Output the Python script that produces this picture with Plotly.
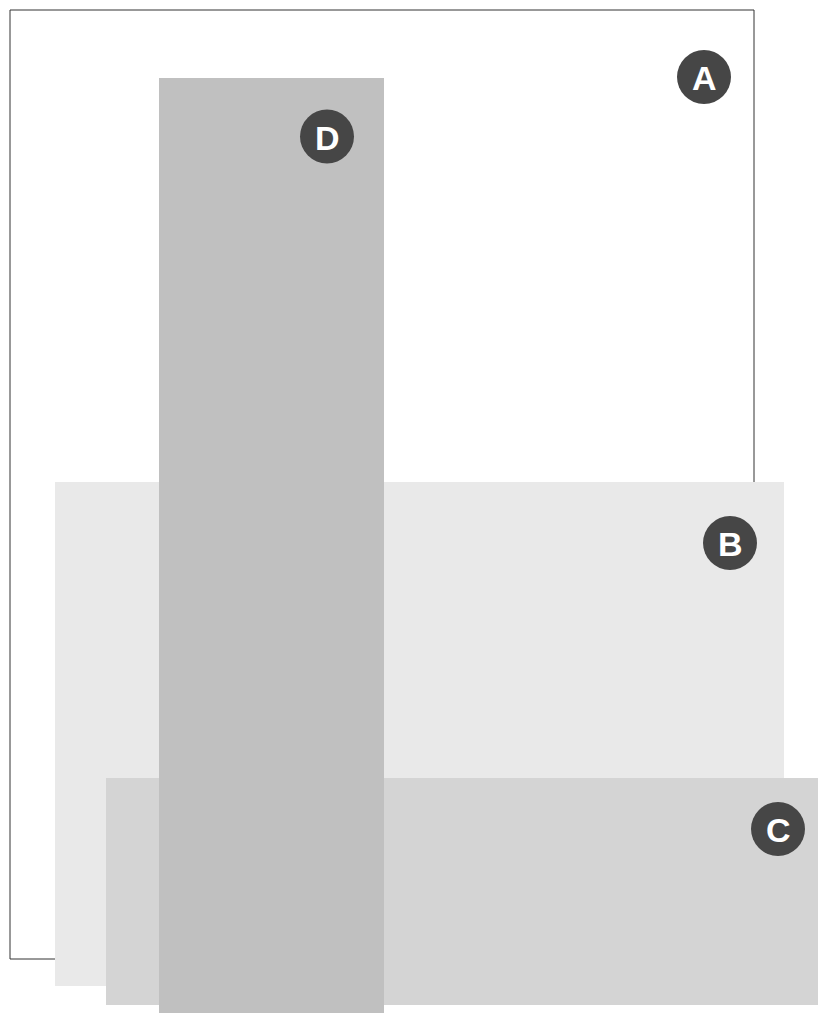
import plotly.graph_objects as go

# Region data (diagram units; y grows downward)
names = ["A", "B", "C", "D"]
x_left = [10, 55, 106, 159]
x_right = [754, 784, 818, 384]
y_top = [10, 482, 778, 78]
y_bottom = [959, 986, 1005, 1013]
label_x = [704, 730, 778, 327]
label_y = [77, 543, 829, 136.5]

fills = ["#ffffff", "#e9e9e9", "#d4d4d4", "#c0c0c0"]
borders = ["#333333", None, None, None]

W, H = 818, 1013

fig = go.Figure()

shapes = []
for i, n in enumerate(names):
    line = dict(width=1, color=borders[i]) if borders[i] else dict(width=0)
    shapes.append(dict(
        type="rect", xref="x", yref="y",
        x0=x_left[i], x1=x_right[i], y0=y_top[i], y1=y_bottom[i],
        fillcolor=fills[i], line=line, layer="below",
    ))

fig.add_trace(go.Scatter(
    x=label_x, y=label_y, mode="markers",
    marker=dict(size=54, color="#464646", line=dict(width=0)),
    hoverinfo="skip", showlegend=False,
))

annotations = [
    dict(x=label_x[i], y=label_y[i], xref="x", yref="y", text="<b>%s</b>" % n,
         showarrow=False, xanchor="center", yanchor="middle", yshift=-1,
         font=dict(family="Liberation Sans, Arial, sans-serif", size=34,
                   color="#ffffff"))
    for i, n in enumerate(names)
]

fig.update_layout(
    width=W, height=H,
    margin=dict(l=0, r=0, t=0, b=0),
    paper_bgcolor="#ffffff", plot_bgcolor="#ffffff",
    shapes=shapes,
    annotations=annotations,
    xaxis=dict(range=[0, W], visible=False, fixedrange=True),
    yaxis=dict(range=[H, 0], visible=False, fixedrange=True),
    hovermode=False,
    showlegend=False,
)

fig.write_html("out.html", config={"displayModeBar": False},
               post_script="document.body.style.margin='0';document.body.style.overflow='hidden';")
